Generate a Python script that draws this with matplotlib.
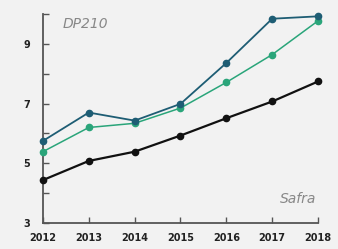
import matplotlib
matplotlib.use("Agg")
import matplotlib.pyplot as plt

# values
years = [2012, 2013, 2014, 2015, 2016, 2017, 2018]
dp210_blue = [5.75, 6.70, 6.43, 6.99, 8.36, 9.84, 9.92]
dp210_green = [5.39, 6.20, 6.34, 6.85, 7.71, 8.64, 9.77]
safra = [4.44, 5.08, 5.39, 5.93, 6.51, 7.07, 7.74]
y_ticks = [3, 4, 5, 6, 7, 8, 9, 10]
y_labels = ["3", "", "5", "", "7", "", "9", ""]

bg = "#f2f2f2"
fig = plt.figure(figsize=(3.38, 2.49), dpi=100, facecolor=bg)
ax = fig.add_axes([0.127, 0.104, 0.814, 0.840], facecolor=bg)

ax.plot(years, safra, color="#111111", lw=1.6, marker="o", ms=4.5, clip_on=False, zorder=3)
ax.plot(years, dp210_green, color="#2aa57a", lw=1.1, marker="o", ms=4.5, clip_on=False, zorder=4)
ax.plot(years, dp210_blue, color="#1e5d74", lw=1.3, marker="o", ms=4.5, clip_on=False, zorder=5)

ax.set_xlim(2012, 2018)
ax.set_ylim(3, 10)
ax.set_xticks(years)
ax.set_xticklabels([str(y) for y in years], fontsize=7, fontweight="bold", color="#222222")
ax.set_yticks(y_ticks)
ax.set_yticklabels(y_labels, fontsize=7, fontweight="bold", color="#222222")
ax.tick_params(direction="in", length=4, width=1, color="#555555")
ax.tick_params(axis="x", pad=7)
ax.tick_params(axis="y", pad=9)

for side in ["top", "right"]:
    ax.spines[side].set_visible(False)
for side in ["left", "bottom"]:
    ax.spines[side].set_color("#555555")
    ax.spines[side].set_linewidth(1.3)

ax.text(0.07, 0.985, "DP210", transform=ax.transAxes, fontsize=10, style="italic",
        color="#888888", va="top", ha="left")
ax.text(0.995, 0.08, "Safra", transform=ax.transAxes, fontsize=10, style="italic",
        color="#888888", va="bottom", ha="right")

fig.savefig("out.png", dpi=100, facecolor=bg)
